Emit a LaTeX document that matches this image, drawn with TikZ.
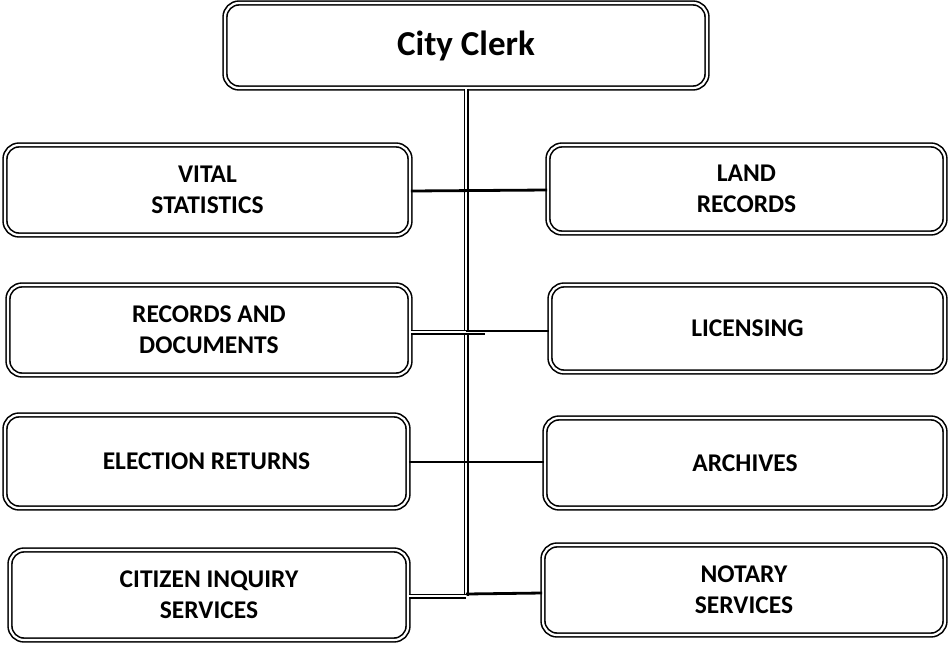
\documentclass[tikz,border=0pt]{standalone}
\usepackage{fontspec}
\setmainfont{Carlito}
\begin{document}
\begin{tikzpicture}[x=1pt,y=-1pt,
  orgbox/.style={draw=black, double=white, double distance=2.2pt, line width=1.6pt,
    rounded corners=14pt, inner sep=0pt, align=center,
    font=\fontsize{25.5}{31}\selectfont\bfseries},
  dline/.style={draw=black, double=white, double distance=2pt, line width=1.5pt},
  sline/.style={draw=black, line width=2.8pt}]
\useasboundingbox (0,0) rectangle (948,646);
\node[orgbox, minimum width=482pt, minimum height=85pt, font=\fontsize{35}{40}\selectfont\bfseries] (clerk) at (466,45.5) {City Clerk};
\node[orgbox, minimum width=405pt, minimum height=90pt] (vital) at (207.5,190) {VITAL\\STATISTICS};
\node[orgbox, minimum width=397pt, minimum height=88pt] (land) at (746.5,189) {LAND\\RECORDS};
\node[orgbox, minimum width=402pt, minimum height=90pt] (recdoc) at (209,330) {RECORDS AND\\DOCUMENTS};
\node[orgbox, minimum width=395pt, minimum height=87pt] (lic) at (747.5,328.5) {LICENSING};
\node[orgbox, minimum width=403pt, minimum height=93pt] (elec) at (206.5,461.5) {ELECTION RETURNS};
\node[orgbox, minimum width=400pt, minimum height=90pt] (arch) at (745,463) {ARCHIVES};
\node[orgbox, minimum width=398pt, minimum height=90pt] (cit) at (209,595) {CITIZEN INQUIRY\\SERVICES};
\node[orgbox, minimum width=402pt, minimum height=90pt] (notary) at (744,590) {NOTARY\\SERVICES};
\coordinate (tb) at (466,596);
\coordinate (r2) at (485,332);
% trunk
\draw[dline] (clerk.south) -- (tb);
% row 1
\draw[sline] (vital.east |- 0,191) -- (land.west |- 0,190);
% row 2
\draw[dline] (recdoc.east |- 0,332) -- (r2);
\draw[sline] (466,331) -- (lic.west |- 0,331);
% row 3
\draw[sline] (elec.east |- 0,462) -- (arch.west |- 0,462);
% row 4
\draw[dline] (cit.east |- 0,596) -- (tb);
\draw[sline] (tb) ++(0,-2) -- (notary.west |- 0,593);
\end{tikzpicture}
\end{document}
